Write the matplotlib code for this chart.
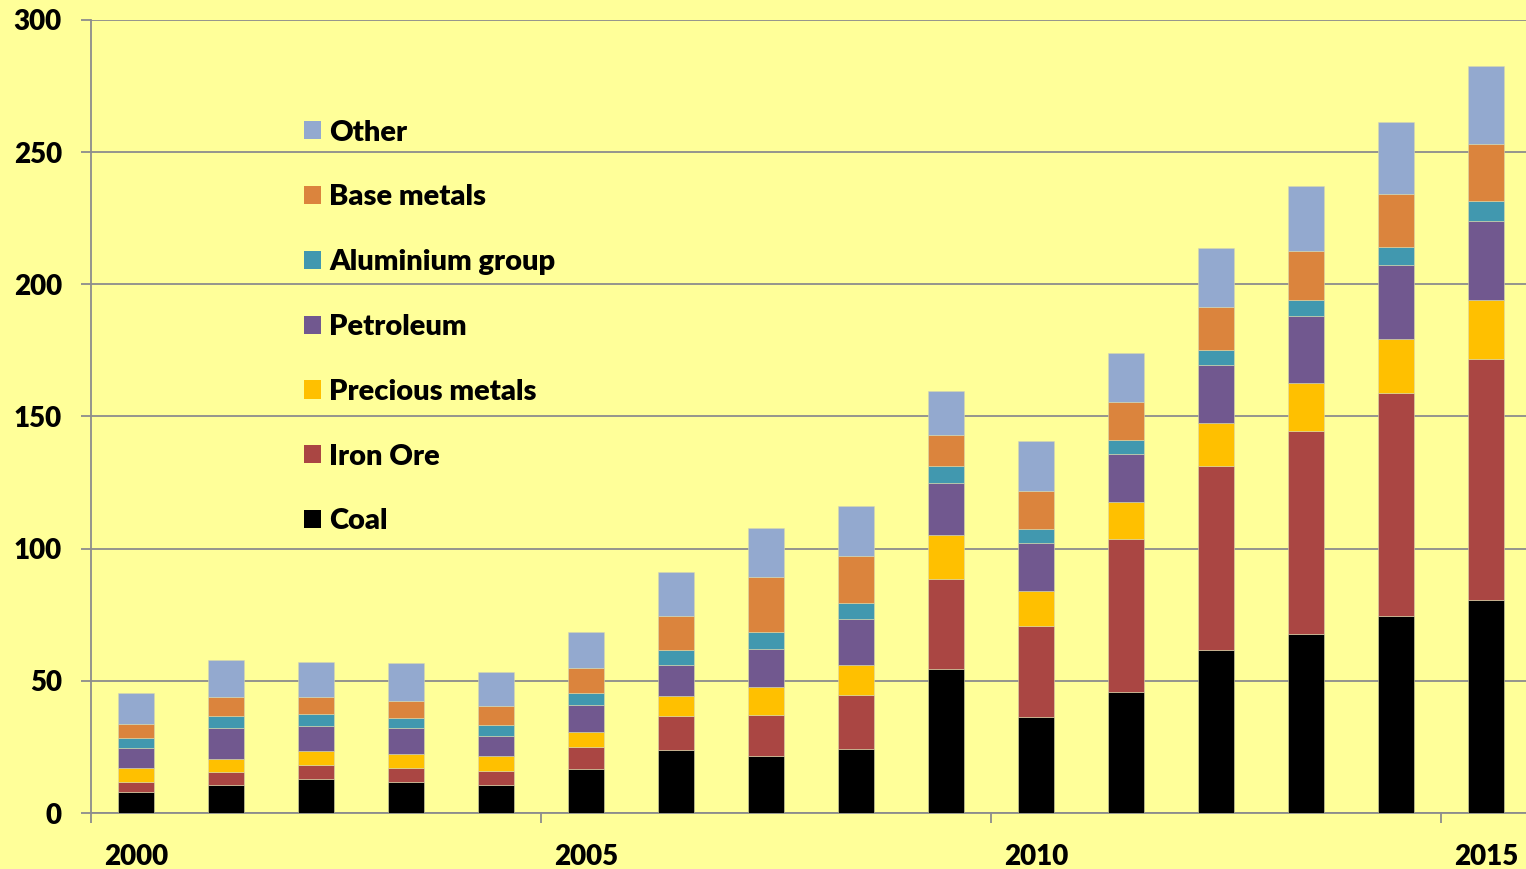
import matplotlib

matplotlib.use("Agg")

import matplotlib.pyplot as plt
import numpy as np
from matplotlib.ticker import FixedLocator, MultipleLocator

years = list(range(2000, 2016))
year_labels = ["2000", "2005", "2010", "2015"]

# values, bottom of stack first
coal = [8.1, 10.6, 13.0, 11.6, 10.6, 16.8, 23.9, 21.6, 24.2, 54.3, 36.2, 45.6, 61.7, 67.7, 74.7, 80.7]
iron_ore = [3.7, 4.9, 5.2, 5.4, 5.3, 8.2, 12.8, 15.5, 20.4, 34.2, 34.5, 58.0, 69.6, 76.7, 84.1, 91.0]
precious_metals = [5.1, 5.0, 5.2, 5.3, 5.7, 5.6, 7.6, 10.6, 11.3, 16.6, 13.4, 14.0, 16.1, 18.2, 20.5, 22.3]
petroleum = [7.8, 11.8, 9.6, 10.0, 7.6, 10.4, 11.8, 14.4, 17.5, 19.8, 18.1, 18.3, 22.1, 25.3, 27.9, 30.1]
aluminium_group = [3.8, 4.5, 4.4, 3.7, 4.1, 4.5, 5.5, 6.5, 6.0, 6.5, 5.3, 5.3, 5.6, 6.3, 6.8, 7.5]
base_metals = [5.3, 7.2, 6.4, 6.5, 7.3, 9.5, 13.0, 20.8, 17.9, 11.7, 14.3, 14.2, 16.3, 18.3, 20.1, 21.6]
other = [11.5, 13.9, 13.3, 14.2, 12.7, 13.3, 16.4, 18.3, 18.8, 16.5, 18.8, 18.8, 22.4, 24.6, 27.2, 29.4]

series = [
    ("Coal", coal, "#000000"),
    ("Iron Ore", iron_ore, "#AA4643"),
    ("Precious metals", precious_metals, "#FFC000"),
    ("Petroleum", petroleum, "#71588F"),
    ("Aluminium group", aluminium_group, "#4198AF"),
    ("Base metals", base_metals, "#DB843D"),
    ("Other", other, "#93A9CF"),
]

BG = "#FFFF99"
GRID = "#8C8C8C"
FONT = "Lato"
WEIGHT = "heavy"

fig = plt.figure(figsize=(15.26, 8.69), dpi=100, facecolor=BG)
ax = fig.add_axes([91 / 1526, 56 / 869, 1440 / 1526, 793 / 869])
ax.set_facecolor(BG)

x = np.arange(len(years))
bottom = np.zeros(len(years))
handles = []
for name, values, color in series:
    vals = np.asarray(values)
    bars = ax.bar(x, vals, width=0.4, bottom=bottom, color=color, label=name,
                  edgecolor="#D8D8B0", linewidth=0.4, zorder=3)
    handles.append(bars)
    bottom += vals

ax.set_xlim(-0.5, len(years) - 0.5)
ax.set_ylim(0, 300)

ax.yaxis.set_major_locator(MultipleLocator(50))
ax.grid(axis="y", color=GRID, linewidth=1.3, zorder=0)
ax.set_axisbelow(True)

# category axis: ticks on boundaries every 5 years, labels centred on bars
ax.xaxis.set_major_locator(FixedLocator([-0.5, 4.5, 9.5, 14.5]))
ax.xaxis.set_minor_locator(FixedLocator([0, 5, 10, 15]))
ax.set_xticklabels([])
ax.set_xticklabels(year_labels, minor=True)
ax.tick_params(axis="x", which="major", length=7, width=1.3, color=GRID, direction="out")
ax.tick_params(axis="x", which="minor", length=0, pad=22)
ax.tick_params(axis="y", length=7, width=1.3, color=GRID, pad=14)

for lbl in ax.get_xticklabels(minor=True) + ax.get_yticklabels():
    lbl.set_fontfamily(FONT)
    lbl.set_fontweight(WEIGHT)
    lbl.set_fontsize(20)

for side in ("top", "right"):
    ax.spines[side].set_visible(False)
for side in ("left", "bottom"):
    ax.spines[side].set_color(GRID)
    ax.spines[side].set_linewidth(1.3)

leg = ax.legend(
    handles[::-1],
    [s[0] for s in series][::-1],
    loc="upper left",
    bbox_to_anchor=(289 / 1526, 1 - 105 / 869),
    bbox_transform=fig.transFigure,
    frameon=False,
    prop={"family": FONT, "weight": WEIGHT, "size": 21},
    handlelength=0.58,
    handleheight=0.58,
    handletextpad=0.3,
    labelspacing=1.33,
    borderpad=0,
)
for h in leg.legend_handles:
    h.set_edgecolor("none")

fig.savefig("out.png", dpi=100, facecolor=BG)
